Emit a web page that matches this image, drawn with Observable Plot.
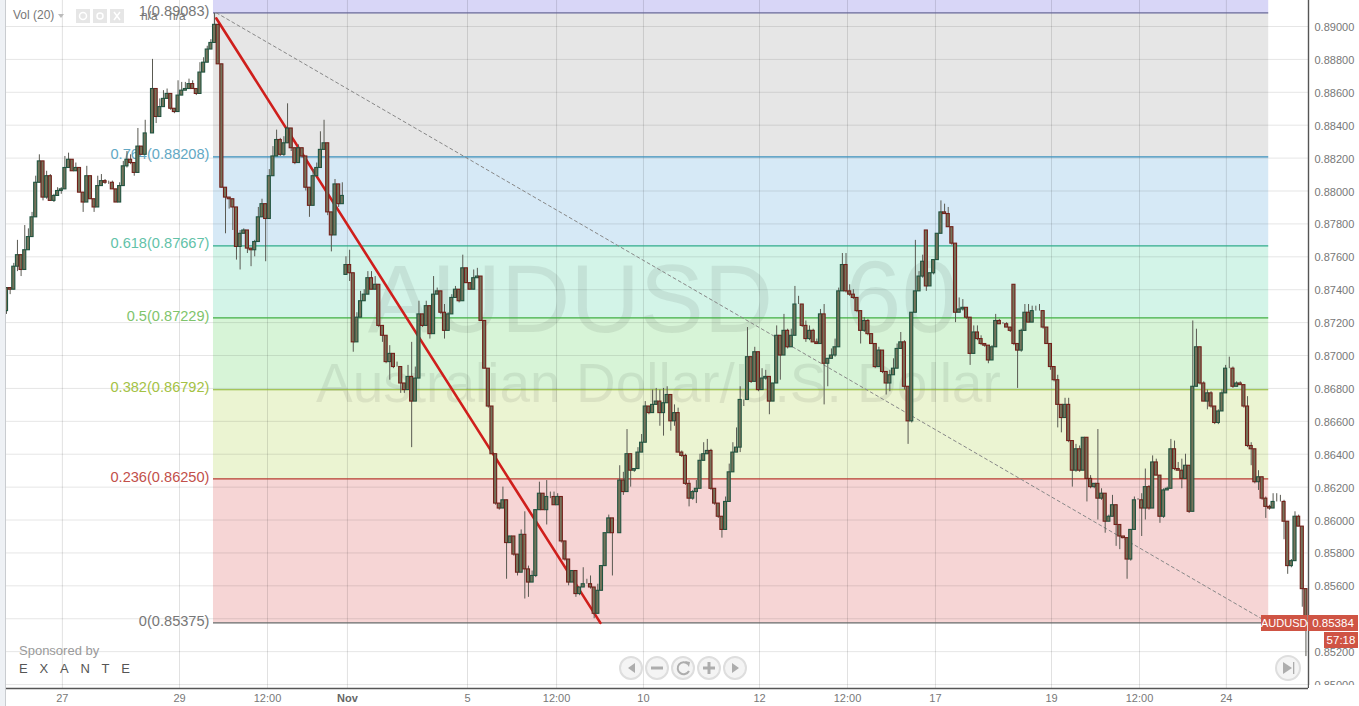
<!DOCTYPE html>
<html><head><meta charset="utf-8">
<script src="https://cdn.jsdelivr.net/npm/d3@7"></script>
<script src="https://cdn.jsdelivr.net/npm/@observablehq/plot@0.6"></script>
<style>
html,body{margin:0;padding:0;background:#fff;overflow:hidden}
#wrap{position:relative;width:1359px;height:706px;font-family:"Liberation Sans",Arial,sans-serif;overflow:hidden}
#wrap svg{display:block}
.o{position:absolute;white-space:nowrap}
.tag{position:absolute;background:#cf5444;color:#fff;font-size:11.5px;line-height:16px;text-align:center}
</style></head><body><div id="wrap"></div>
<script>
// hourly closes in pips (1 pip = 0.0001)
const closes=[
8741,8740,8754,8761,8752,8764,8772,8784,8805,8818,
8796,8809,8794,8797,8800,8801,8814,8819,8812,8814,
8799,8793,8809,8795,8790,8803,8806,8805,8805,8801,
8793,8803,8815,8819,8817,8811,8827,8822,8835,8835,
8862,8845,8851,8856,8859,8850,8848,8858,8861,8862,
8865,8862,8859,8872,8878,8886,8890,8901,8877,8802,
8796,8795,8790,8766,8774,8776,8765,8764,8769,8784,
8792,8783,8809,8821,8831,8822,8829,8838,8826,8817,
8826,8821,8802,8791,8809,8814,8825,8829,8787,8773,
8804,8792,8797,8755,8750,8708,8723,8733,8737,8747,
8740,8743,8718,8712,8696,8701,8693,8693,8683,8679,
8687,8672,8686,8725,8718,8730,8713,8737,8739,8726,
8715,8725,8735,8740,8733,8753,8744,8740,8747,8748,
8721,8692,8669,8640,8610,8607,8612,8586,8590,8579,
8568,8591,8570,8562,8566,8606,8616,8606,8614,8614,
8609,8614,8587,8576,8562,8569,8555,8559,8561,8561,
8559,8543,8557,8572,8592,8601,8592,8592,8624,8617,
8640,8630,8631,8641,8647,8669,8665,8670,8672,8665,
8671,8676,8660,8665,8641,8639,8622,8613,8617,8619,
8636,8640,8642,8619,8610,8602,8594,8611,8629,8641,
8644,8673,8673,8699,8684,8702,8679,8686,8687,8672,
8683,8712,8700,8715,8705,8712,8731,8731,8718,8710,
8715,8708,8707,8725,8695,8698,8700,8705,8739,8755,
8739,8737,8735,8727,8715,8721,8713,8707,8693,8703,
8690,8683,8688,8692,8704,8708,8681,8660,8726,8739,
8748,8757,8742,8750,8758,8774,8787,8786,8778,8768,
8726,8728,8729,8723,8701,8714,8710,8707,8706,8697,
8705,8721,8719,8719,8717,8715,8707,8703,8715,8726,
8720,8727,8727,8727,8717,8707,8693,8685,8670,8662,
8670,8648,8630,8643,8630,8650,8625,8620,8622,8613,
8616,8599,8602,8609,8597,8590,8589,8576,8594,8612,
8612,8607,8620,8607,8635,8627,8602,8618,8619,8643,
8631,8630,8625,8633,8605,8681,8705,8683,8672,8677,
8669,8659,8666,8677,8692,8692,8681,8683,8682,8669,
8645,8643,8623,8626,8613,8608,8607,8611,8611,8611,
8599,8572,8575,8602,8596,8558,8538];
// upper wick length above the body, pips
const wickUp=[
0,0,2,9,0,15,5,3,4,4,
0,3,1,1,2,1,7,4,0,3,
0,0,6,0,0,6,4,1,1,1,
0,2,3,5,3,0,11,0,8,0,
18,0,5,5,3,0,0,9,5,4,
3,2,0,6,3,2,2,7,0,0,
0,0,0,0,2,1,0,0,1,6,
3,0,4,6,6,1,4,15,0,0,
2,0,0,0,4,3,11,14,0,0,
3,0,8,5,9,0,3,6,3,4,
4,5,0,0,0,5,0,3,0,0,
7,21,7,8,0,3,0,11,2,0,
5,1,2,2,0,8,0,0,5,5,
0,0,0,0,0,0,8,0,0,0,
0,3,14,2,3,0,7,0,10,3,
3,2,0,0,0,0,0,0,10,3,
5,0,4,0,0,2,0,0,9,5,
15,0,0,3,5,3,0,9,8,7,
9,5,0,5,3,1,1,2,1,5,
4,7,7,1,0,0,0,3,5,6,
12,8,0,18,0,3,0,6,4,0,
0,6,0,10,1,4,11,5,0,3,
3,1,2,3,6,0,4,5,2,7,
7,4,3,0,0,2,1,0,0,2,
0,0,3,6,3,6,1,0,0,31,
3,4,0,0,0,0,7,5,4,0,
0,7,5,0,0,4,4,2,0,0,
1,4,1,1,1,0,0,0,1,5,
5,3,3,4,0,0,0,0,3,0,
4,4,0,3,2,0,0,2,0,33,
3,0,1,6,0,0,0,0,0,2,
1,4,11,1,4,2,0,1,1,6,
5,4,7,7,0,40,11,0,1,2,
1,0,1,2,2,7,1,1,1,0,
6,2,0,4,0,1,1,5,5,4,
1,0,1,3,1,0,0];
// lower wick length below the body, pips
const wickDown=[
2,3,0,3,4,0,0,0,0,0,
2,1,0,1,0,2,0,0,0,0,
0,6,0,0,3,0,0,1,1,0,
0,0,0,1,1,2,0,0,0,0,
0,4,0,0,0,1,1,0,0,0,
0,0,1,0,0,0,0,0,0,0,
22,6,14,8,14,0,3,10,4,0,
0,26,0,0,0,1,1,0,2,1,
0,1,2,7,0,0,0,0,2,10,
0,2,0,0,5,6,0,0,0,0,
0,0,1,4,1,11,1,0,6,2,
0,28,0,0,1,0,3,0,0,1,
5,0,0,0,1,0,0,0,0,0,
0,0,1,0,1,1,0,22,0,1,
2,0,18,9,0,1,0,0,9,1,
0,0,1,1,2,0,2,1,0,0,
1,3,0,0,0,0,26,0,0,2,
0,10,1,0,0,0,1,0,0,8,
14,0,6,3,0,1,1,5,1,7,
0,0,0,1,1,1,5,0,0,0,
0,3,4,0,1,0,1,0,1,8,
0,0,15,0,1,0,0,0,1,2,
1,0,0,0,25,14,0,1,0,0,
1,1,1,1,8,1,1,0,1,0,
1,7,5,0,0,0,2,14,1,0,
0,1,3,0,1,0,0,0,0,1,
6,0,1,1,7,0,1,1,1,2,
0,0,0,0,0,1,1,23,1,0,
0,0,0,0,1,0,2,1,14,9,
0,1,10,1,1,0,14,1,1,13,
1,7,0,0,13,8,0,12,1,0,
0,17,7,1,0,0,4,1,0,0,
1,0,6,0,1,0,0,1,0,5,
1,1,1,0,0,0,1,0,0,1,
1,10,1,5,1,7,1,0,0,0,
11,5,1,0,0,11,21];
// bars whose open does not equal the previous close (weekend gap and spikes)
const openOverrides={0:8727,93:8749,252:8776,276:8743};

const fibRatios=["1","0.764","0.618","0.5","0.382","0.236","0"];
const fibPrices=[0.89083,0.88208,0.87667,0.87229,0.86792,0.8625,0.85375];
const fibLineColors=["#66669a","#3f8fb8","#2fa98c","#3fae45","#8db52f","#b5402f","#666666"];
const fibTextColors=["#777777","#62a8c4","#62c2a8","#7fc46c","#a4c244","#c2504a","#777777"];
const fibBandColors=["#e6e6e6","#d6e9f6","#d3f4e8","#d7f4d7","#ebf4d2","#f6d5d5"];
const topBandColor="#d8d6f7";
const yTicks=[0.85,0.852,0.854,0.856,0.858,0.86,0.862,0.864,0.866,0.868,0.87,0.872,0.874,0.876,0.878,0.88,0.882,0.884,0.886,0.888,0.89];
const hiddenYLabel=0.854; // covered by the price tag in the picture
const xTickBars=[15.3,47.4,71.5,93.4,126.3,150.7,174.5,206.3,230.4,254.5,286.3,310.4,334.2];
const xTickLabels=["27","29","12:00","Nov","5","12:00","10","12","12:00","17","19","12:00","24"];
const fibStartBar=56.7, fibEndBar=345.8;
const trendBars=[57.5,162.7], trendPrices=[0.89049,0.85375];
const diagBars=[57.5,345.8], diagPrices=[0.89083,0.85375];
const yMin=0.84976, yMax=0.89158, xMax=356.7;

const candles=closes.map((c,i)=>{
  const open=(i in openOverrides?openOverrides[i]:closes[i-1])/1e4, close=c/1e4;
  const top=Math.max(open,close), bot=Math.min(open,close);
  return {bar:i,open,close,high:top+wickUp[i]/1e4,low:bot-wickDown[i]/1e4,up:close>=open};
});
const bands=fibBandColors.map((color,i)=>({y1:fibPrices[i],y2:fibPrices[i+1],color}));
bands.push({y1:yMax,y2:fibPrices[0],color:topBandColor});
const fibs=fibRatios.map((r,i)=>({ratio:r,price:fibPrices[i],line:fibLineColors[i],text:fibTextColors[i],label:`${r}(${fibPrices[i].toFixed(5)})`}));
const wm="Liberation Sans";

const chart=Plot.plot({
  width:1359,height:706,marginTop:0,marginRight:51,marginBottom:18,marginLeft:6,
  style:{background:"transparent",fontFamily:"Liberation Sans, Arial, sans-serif",overflow:"visible"},
  x:{type:"linear",domain:[0,xMax],range:[6,1308]},
  y:{type:"linear",domain:[yMin,yMax],range:[688,0]},
  marks:[
    Plot.rect(bands,{x1:()=>fibStartBar,x2:()=>fibEndBar,y1:"y1",y2:"y2",fill:"color",inset:0}),
    Plot.ruleY(yTicks,{stroke:"#000",strokeOpacity:0.1}),
    Plot.ruleX(xTickBars,{stroke:"#000",strokeOpacity:0.12}),
    Plot.text(["AUDUSD"],{x:()=>154.5,y:()=>0.8714,text:d=>d,fontSize:96,fontFamily:wm,fill:"#000",fillOpacity:0.07,lineAnchor:"bottom",textAnchor:"middle"}),
    Plot.text(["60"],{x:()=>245.2,y:()=>0.8714,text:d=>d,fontSize:102,fontFamily:wm,fill:"#000",fillOpacity:0.07,lineAnchor:"bottom",textAnchor:"middle"}),
    Plot.text(["Australian Dollar/U.S. Dollar"],{x:()=>178.6,y:()=>0.8672,text:d=>d,fontSize:55,fontFamily:wm,fill:"#000",fillOpacity:0.07,lineAnchor:"bottom",textAnchor:"middle"}),
    Plot.ruleY(fibs,{y:"price",x1:()=>fibStartBar,x2:()=>fibEndBar,stroke:"line",strokeWidth:1.2}),
    Plot.text(fibs,{x:()=>fibStartBar,y:"price",text:"label",fill:"text",textAnchor:"end",dx:-4,dy:-2,fontSize:14.6,fontFamily:wm}),
    Plot.line(diagBars.map((b,i)=>({b,p:diagPrices[i]})),{x:"b",y:"p",stroke:"#888",strokeWidth:1,strokeDasharray:"3,3"}),
    Plot.line(trendBars.map((b,i)=>({b,p:trendPrices[i]})),{x:"b",y:"p",stroke:"#cf1f1c",strokeWidth:2.6}),
    Plot.ruleX(candles,{x:"bar",y1:"low",y2:"high",stroke:"#5a5a52",strokeWidth:1}),
    Plot.rect(candles,{x1:d=>d.bar-0.42,x2:d=>d.bar+0.42,y1:"open",y2:"close",fill:"#75735a",stroke:d=>d.up?"#215440":"#73201a",strokeWidth:1.1}),
    Plot.ruleX([xMax],{stroke:"#555",strokeWidth:1.4}),
    Plot.ruleY([yMin],{stroke:"#555",strokeWidth:1.6}),
    Plot.axisY(yTicks.filter(t=>t!==hiddenYLabel),{anchor:"right",tickSize:0,tickPadding:6,dy:1,tickFormat:d3.format(".5f"),fontSize:11,fontFamily:wm,color:"#777",label:null}),
    Plot.axisX(xTickBars.filter((b,i)=>xTickLabels[i]!=="Nov"),{anchor:"bottom",tickSize:0,tickPadding:6,tickFormat:b=>xTickLabels[xTickBars.indexOf(b)],fontSize:11,fontFamily:wm,color:"#777",label:null}),
    Plot.axisX(xTickBars.filter((b,i)=>xTickLabels[i]==="Nov"),{anchor:"bottom",tickSize:0,tickPadding:6,tickFormat:()=>"Nov",fontSize:11,fontFamily:wm,fontWeight:"bold",color:"#666",label:null})
  ]
});
const wrap=document.getElementById("wrap");
wrap.appendChild(chart);
chart.style.position="absolute";chart.style.left="0";chart.style.top="0";

function add(html){const t=document.createElement("div");t.innerHTML=html;while(t.firstChild)wrap.appendChild(t.firstChild);}
add(`
<div class="o" style="left:0;top:0;width:5px;height:706px;background:#eef1f5;border-right:1px solid #c9ccd0"></div>
<div class="o" style="left:1309px;top:685px;width:50px;height:21px;background:#fff"></div>
<div class="o" style="left:13px;top:8px;font-size:12px;color:#777">Vol (20)</div>
<div class="o" style="left:58px;top:14px;width:0;height:0;border:3.5px solid transparent;border-top:4px solid #bbb"></div>
<div class="o" style="left:141px;top:9px;font-size:12px;color:#777">n/a</div>
<div class="o" style="left:169px;top:9px;font-size:12px;color:#777">n/a</div>
<div class="o" style="left:19px;top:643px;font-size:13px;color:#9a9a9a">Sponsored by</div>
<div class="o" style="left:19px;top:661px;font-size:13px;letter-spacing:11.8px;color:#555">EXANTE</div>
<div class="tag" style="left:1261px;top:615px;width:46px;font-size:11px">AUDUSD</div>
<div class="tag" style="left:1308px;top:615px;width:50px">0.85384</div>
<div class="tag" style="left:1324px;top:632px;width:34px">57:18</div>
<svg class="o" style="left:0;top:0" width="1359" height="706">
  <g fill="#e6e6e6"><rect x="76" y="9" width="14" height="14"/><rect x="93" y="9" width="14" height="14"/><rect x="110" y="9" width="14" height="14"/></g>
  <g fill="none" stroke="#fff" stroke-width="1.5"><circle cx="83" cy="16" r="3.5"/><circle cx="100" cy="16" r="3"/><path d="M114 12l6 8M120 12l-6 8"/></g>
  <g fill="#f4f4f4" stroke="#dedede" stroke-width="2">
    <circle cx="631" cy="668" r="11"/><circle cx="657" cy="668" r="11"/><circle cx="683" cy="668" r="11"/><circle cx="709" cy="668" r="11"/><circle cx="735" cy="668" r="11"/><circle cx="1288" cy="668" r="12"/>
  </g>
  <g fill="#adadad">
    <path d="M635 663v10l-7-5z"/><rect x="651" y="666.5" width="12" height="3"/><rect x="703" y="666.5" width="12" height="3"/><rect x="707.5" y="662" width="3" height="12"/><path d="M732 663v10l7-5z"/><path d="M1283 662v12l9-6z"/><rect x="1293" y="662" width="1.3" height="12"/>
  </g>
  <path d="M688 664a6 6 0 1 0 1 7" fill="none" stroke="#adadad" stroke-width="2"/><path d="M685 661l5 1-1 5z" fill="#adadad"/>
</svg>`);
</script></body></html>
